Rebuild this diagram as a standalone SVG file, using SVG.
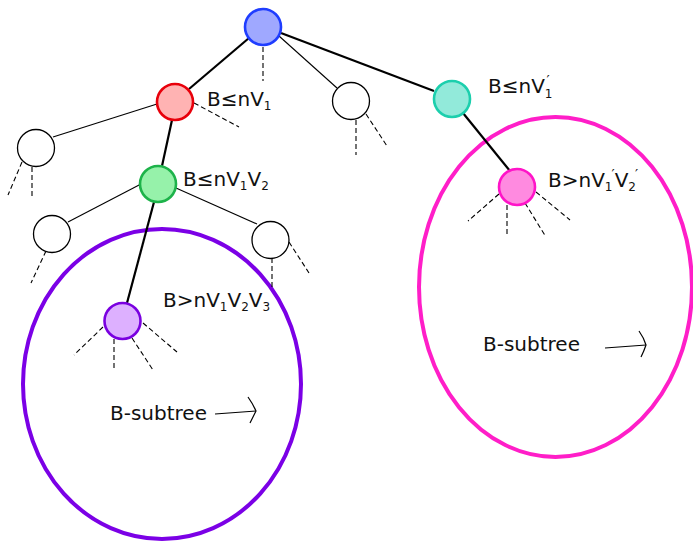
<svg xmlns="http://www.w3.org/2000/svg" width="693" height="542" viewBox="0 0 693 542">
  <style>
    .thick { stroke: #000; stroke-width: 2.2; fill: none; }
    .thin { stroke: #000; stroke-width: 1.1; fill: none; }
    .dash { stroke: #000; stroke-width: 1.1; stroke-dasharray: 5 3; fill: none; }
    .blank { fill: #fff; stroke: #000; stroke-width: 1.3; }
    .node { stroke-width: 2.6; }
    .lbl { font-family: "DejaVu Sans", "Liberation Sans", sans-serif; font-size: 20px; fill: #111; }
    .sub { font-size: 12px; }
    .prime { font-size: 14px; }
    .region { fill: none; stroke-width: 4; }
    .arrow { stroke: #000; stroke-width: 1.2; fill: none; }
  </style>

  <!-- subtree regions -->
  <ellipse class="region" cx="162" cy="384" rx="139" ry="155" stroke="#7b00e6"/>
  <ellipse class="region" cx="555.5" cy="287" rx="136.5" ry="170" stroke="#ff1ec8"/>

  <g id="connectors">
    <!-- tree edges -->
    <line class="thick" x1="249" y1="38" x2="189" y2="89"/>
    <line class="thin" x1="279" y1="36" x2="337" y2="88"/>
    <line class="thick" x1="281" y1="33" x2="434" y2="91"/>
    <line class="thick" x1="172" y1="120" x2="162" y2="166"/>
    <line class="thin" x1="157" y1="104" x2="53" y2="137"/>
    <line class="thick" x1="463" y1="113" x2="510" y2="171"/>
    <line class="thin" x1="141" y1="184" x2="68" y2="222"/>
    <line class="thin" x1="176" y1="188" x2="257" y2="224"/>
    <line class="thick" x1="154" y1="202" x2="127" y2="303"/>

    <!-- dashed stubs -->
    <line class="dash" x1="263" y1="47" x2="263" y2="81"/>
    <line class="dash" x1="194" y1="103" x2="239" y2="127"/>
    <line class="dash" x1="356" y1="120" x2="356" y2="155"/>
    <line class="dash" x1="366" y1="114" x2="387" y2="146"/>
    <line class="dash" x1="22" y1="162" x2="8" y2="195"/>
    <line class="dash" x1="32" y1="167" x2="32" y2="199"/>
    <line class="dash" x1="46" y1="251" x2="31" y2="283"/>
    <line class="dash" x1="272" y1="258" x2="272" y2="290"/>
    <line class="dash" x1="289" y1="242" x2="309" y2="273"/>
    <line class="dash" x1="103" y1="327" x2="74" y2="355"/>
    <line class="dash" x1="114" y1="339" x2="114" y2="370"/>
    <line class="dash" x1="132" y1="338" x2="153" y2="370"/>
    <line class="dash" x1="143" y1="323" x2="177" y2="352"/>
    <line class="dash" x1="499" y1="194" x2="468" y2="221"/>
    <line class="dash" x1="507" y1="205" x2="507" y2="237"/>
    <line class="dash" x1="525" y1="203" x2="546" y2="237"/>
    <line class="dash" x1="536" y1="192" x2="570" y2="220"/>

    <!-- continuation arrows -->
    <line class="arrow" x1="215" y1="414" x2="256" y2="411"/>
    <path class="arrow" d="M248,397 Q253,404 256,411 Q253,417 250,423"/>
    <line class="arrow" x1="605" y1="348" x2="646" y2="345"/>
    <path class="arrow" d="M639,331 Q644,338 646,345 Q644,351 641,357"/>
  </g>

  <g id="root"><circle class="node" cx="263" cy="27" r="18" fill="#9fa8ff" stroke="#1f3dff"/></g>
  <g id="n-red"><circle class="node" cx="175" cy="102" r="18" fill="#ffb3b3" stroke="#e8000b"/></g>
  <g id="n-mid"><circle class="blank" cx="351" cy="101" r="18.5"/></g>
  <g id="n-teal"><circle class="node" cx="452" cy="99" r="18" fill="#92eada" stroke="#1ccfad"/></g>
  <g id="n-left"><circle class="blank" cx="36" cy="148" r="18.5"/></g>
  <g id="n-green"><circle class="node" cx="158" cy="184" r="18" fill="#96f2aa" stroke="#1db34a"/></g>
  <g id="n-magenta"><circle class="node" cx="517" cy="187" r="18" fill="#ff8ae0" stroke="#ff14c8"/></g>
  <g id="n-ll"><circle class="blank" cx="52" cy="234" r="18.5"/></g>
  <g id="n-lr"><circle class="blank" cx="270.5" cy="240" r="18.5"/></g>
  <g id="n-purple"><circle class="node" cx="122.5" cy="321" r="18" fill="#ddb0ff" stroke="#7a00e0"/></g>

  <!-- labels -->
  <g id="labels">
    <text class="lbl" x="207" y="106">B≤nV<tspan class="sub" dy="4">1</tspan></text>
    <text class="lbl" x="488" y="93">B≤nV<tspan class="sub" dy="5">1</tspan><tspan class="prime" dx="-6" dy="-13">′</tspan></text>
    <text class="lbl" x="183" y="186">B≤nV<tspan class="sub" dy="4">1</tspan><tspan dy="-4">V</tspan><tspan class="sub" dy="4">2</tspan></text>
    <text class="lbl" x="548" y="187">B&gt;nV<tspan class="sub" dy="4">1</tspan><tspan class="prime" dx="-1" dy="-12">′</tspan><tspan dy="8">V</tspan><tspan class="sub" dy="4">2</tspan><tspan class="prime" dx="-1" dy="-12">′</tspan></text>
    <text class="lbl" x="163" y="307">B&gt;nV<tspan class="sub" dy="4">1</tspan><tspan dy="-4">V</tspan><tspan class="sub" dy="4">2</tspan><tspan dy="-4">V</tspan><tspan class="sub" dy="4">3</tspan></text>
    <text class="lbl" x="110" y="420">B-subtree</text>
    <text class="lbl" x="483" y="351">B-subtree</text>
  </g>
</svg>
